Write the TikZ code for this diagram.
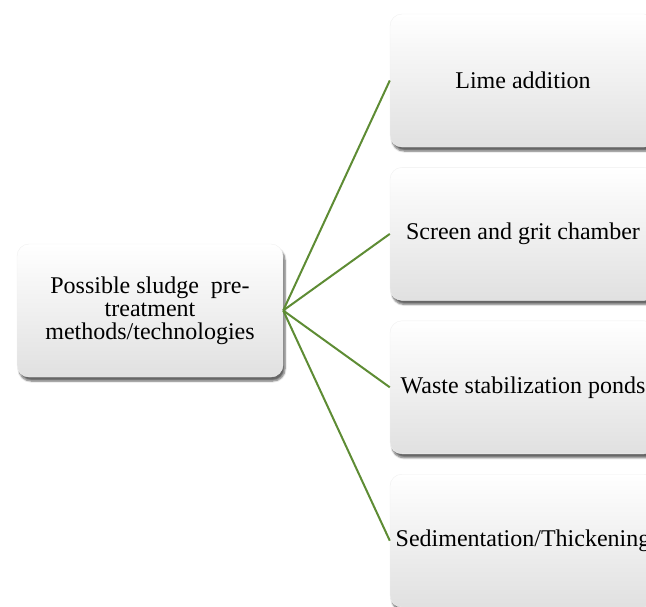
\documentclass[tikz,border=0pt]{standalone}
\usepackage{fontspec}
\setmainfont{Liberation Serif}
\usepackage{xcolor}
\usetikzlibrary{positioning,shadows.blur}
\definecolor{linkgreen}{RGB}{94,140,52}

\begin{document}
\begin{tikzpicture}[
  x=1pt, y=-1pt,
  box/.style={rectangle, rounded corners=12pt, minimum width=266pt,
              minimum height=133pt, inner sep=2pt, align=center,
              top color=white, middle color=white, bottom color=black!12,
              draw=black!6,
              font=\fontsize{24}{23}\selectfont,
              blur shadow={shadow xshift=2pt, shadow yshift=-4pt,
                           shadow blur steps=6, shadow opacity=60}},
  link/.style={draw=linkgreen, line width=2pt},
]
  \useasboundingbox (0,0) rectangle (646,606);
  \clip (0,0) rectangle (646,606);

  \node[box] (pre) at (150,310.5)
    {Possible sludge\ \ pre-\\treatment\\methods/technologies};

  \node[box] (lime) at (523,80.5) {Lime addition};
  \node[box, below=20pt of lime] (grit) {Screen and grit chamber};
  \node[box, below=20pt of grit] (ponds) {Waste stabilization ponds};
  \node[box, below=20pt of ponds] (sedi) {Sedimentation/Thickening};

  \foreach \n in {lime,grit,ponds,sedi}
    \draw[link] (pre.east) -- (\n.west);
\end{tikzpicture}
\end{document}
